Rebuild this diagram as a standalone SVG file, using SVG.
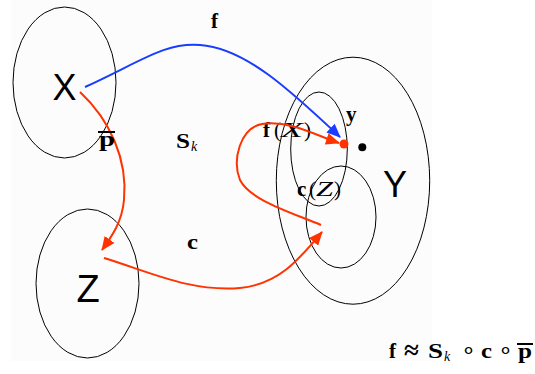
<svg xmlns="http://www.w3.org/2000/svg" width="535" height="374" viewBox="0 0 535 374">
<style>
.set{fill:none;stroke:#000;stroke-width:1}
.big{font-family:"Liberation Sans",Arial,sans-serif;font-size:36px;fill:#000;text-anchor:middle}
.m{font-family:"Liberation Serif","Times New Roman",serif;font-weight:bold;font-size:21px;fill:#000}
.mi{font-family:"Liberation Serif","Times New Roman",serif;font-style:italic;font-size:21px;fill:#000}
.mr{font-family:"Liberation Serif","Times New Roman",serif;font-size:21px;fill:#000}
.sub{font-size:14px}
.red{fill:none;stroke:#ff3300;stroke-width:2}
.blue{fill:none;stroke:#1a3cff;stroke-width:2}
.bar{stroke:#000;stroke-width:2}
</style>
<defs>
<marker id="ar" markerUnits="userSpaceOnUse" markerWidth="14" markerHeight="12" refX="13" refY="6" orient="auto"><path d="M0,0 L14,6 L0,12 Z" fill="#ff3300"/></marker>
<marker id="ab" markerUnits="userSpaceOnUse" markerWidth="14" markerHeight="12" refX="13" refY="6" orient="auto"><path d="M0,0 L14,6 L0,12 Z" fill="#1a3cff"/></marker>
</defs>
<rect x="0" y="0" width="535" height="374" fill="#fff"/>
<rect x="11" y="0" width="421" height="361" fill="#fcfcfc"/>
<g id="X"><ellipse class="set" cx="64.5" cy="82.5" rx="51.5" ry="75.5"/><text class="big" x="64.5" y="100">X</text></g>
<g id="Z"><ellipse class="set" cx="87.5" cy="283.5" rx="51.5" ry="74.5"/><text class="big" x="88" y="302" style="font-size:38px">Z</text></g>
<g id="Y"><ellipse class="set" cx="353" cy="180.7" rx="76.7" ry="123.5"/><text class="big" x="395" y="197">Y</text></g>
<g id="fX"><ellipse class="set" cx="319" cy="149" rx="28.3" ry="57"/>
<text class="m" x="263" y="137">f</text><text class="mr" x="274" y="137">(</text><text class="mi" x="281" y="137" textLength="22" lengthAdjust="spacingAndGlyphs">X</text><text class="mr" x="304" y="137">)</text></g>
<g id="cZ"><ellipse class="set" cx="341" cy="217" rx="35" ry="51"/>
<text class="m" x="297" y="196">c</text><text class="mr" x="309" y="196">(</text><text class="mi" x="316" y="196" textLength="17" lengthAdjust="spacingAndGlyphs">Z</text><text class="mr" x="334" y="196">)</text></g>
<g id="points"><circle cx="362.3" cy="147.3" r="4" fill="#000"/><circle cx="344" cy="144" r="4.5" fill="#ff3300"/><text class="m" x="346" y="121">y</text></g>
<g id="connectors">
<path class="blue" d="M85,87 C140,62 165,42 200,45 C245,48 290,90 340,137" marker-end="url(#ab)"/>
<path class="red" d="M80,92 C110,120 128,160 124,200 C122,222 112,236 102,250" marker-end="url(#ar)"/>
<path class="red" d="M104,258 C150,272 190,292 240,288 C280,284 300,258 322,232" marker-end="url(#ar)"/>
<path class="red" d="M321,225 C290,212 250,200 240,180 C232,160 240,128 262,124 C290,120 315,135 339,143" marker-end="url(#ar)"/>
</g>
<g id="labels">
<text class="m" x="211" y="28">f</text>
<text class="m" x="99" y="146" textLength="16" lengthAdjust="spacingAndGlyphs">p</text><line class="bar" x1="98" y1="132" x2="115" y2="132"/>
<text class="m" x="176" y="148" textLength="14" lengthAdjust="spacingAndGlyphs">S</text><text class="mi sub" x="191" y="151">k</text>
<text class="m" x="187" y="249" textLength="11" lengthAdjust="spacingAndGlyphs">c</text>
<text class="m" x="389" y="358">f</text>
<text class="mr" x="404" y="359" style="font-size:27px;font-weight:bold">≈</text>
<text class="m" x="428" y="358" textLength="15" lengthAdjust="spacingAndGlyphs">S</text><text class="mi sub" x="444" y="361">k</text>
<text class="mr" x="461" y="358" style="font-size:24px">∘</text>
<text class="m" x="481" y="358" textLength="11" lengthAdjust="spacingAndGlyphs">c</text>
<text class="mr" x="498" y="358" style="font-size:24px">∘</text>
<text class="m" x="518" y="358" textLength="14" lengthAdjust="spacingAndGlyphs">p</text>
<line class="bar" x1="517" y1="344" x2="533" y2="344"/>
</g>
</svg>
